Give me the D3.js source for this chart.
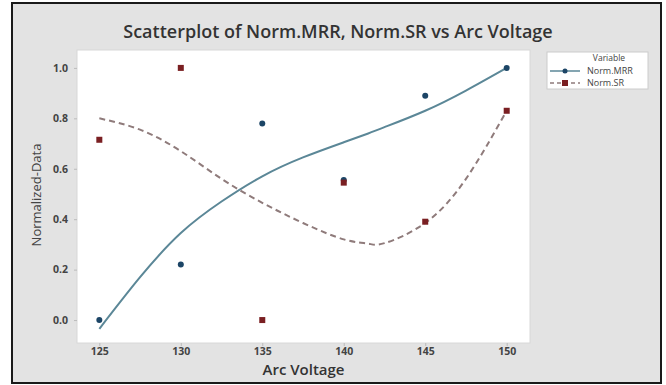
<!DOCTYPE html>
<html><head><meta charset="utf-8">
<script src="https://cdn.jsdelivr.net/npm/d3@7"></script>
<style>body{margin:0;background:#fff}svg{display:block}</style>
</head><body>
<svg id="c" width="666" height="385"></svg>
<script>
const voltage = [125, 130, 135, 140, 145, 150];
const normMRR = [0.00, 0.22, 0.78, 0.555, 0.89, 1.00];
const normSR  = [0.715, 1.00, 0.00, 0.545, 0.39, 0.83];
// fitted smoother curves
const fitX   = [125, 127.5, 130, 132.5, 135, 137.5, 140, 141.5, 142.5, 145, 147.5, 150];
const fitMRR = [-0.035, 0.17, 0.345, 0.47, 0.57, 0.645, 0.705, 0.74, 0.765, 0.83, 0.91, 1.00];
const fitSR  = [0.80, 0.755, 0.67, 0.56, 0.465, 0.385, 0.32, 0.303, 0.305, 0.385, 0.56, 0.83];
const xTicks = [125, 130, 135, 140, 145, 150];
const yTicks = [0.0, 0.2, 0.4, 0.6, 0.8, 1.0];
const seriesNames = ["Norm.MRR", "Norm.SR"];

const svg = d3.select("#c");
svg.append("rect").attr("x", 12).attr("y", 3).attr("width", 649).attr("height", 380)
  .attr("fill", "#e3e3e3").attr("stroke", "#1a1a1a").attr("stroke-width", 2);

const L = 77, R = 530, T = 50, B = 343;
const x = d3.scaleLinear().domain([123.63, 151.43]).range([L, R]);
const y = d3.scaleLinear().domain([-0.091, 1.071]).range([B, T]);

svg.append("rect").attr("x", L).attr("y", T).attr("width", R - L).attr("height", B - T)
  .attr("fill", "#fff").attr("stroke", "#d8d8d8");

const font = "'Open Sans', 'DejaVu Sans', sans-serif";
const xa = svg.append("g").attr("transform", `translate(0,${B})`)
  .call(d3.axisBottom(x).tickValues(xTicks).tickFormat(d3.format("d")).tickSize(3).tickPadding(2));
const ya = svg.append("g").attr("transform", `translate(${L},0)`)
  .call(d3.axisLeft(y).tickValues(yTicks).tickFormat(d3.format(".1f")).tickSize(3).tickPadding(6));
[xa, ya].forEach(a => {
  a.select(".domain").remove();
  a.selectAll("line").attr("stroke", "#bbb");
  a.selectAll("text").attr("fill", "#444").attr("font-family", font)
    .attr("font-weight", 700).attr("font-size", 10.5);
});

const lineGen = d3.line().x((d, i) => x(fitX[i])).y(d => y(d)).curve(d3.curveNatural);
svg.append("path").datum(fitMRR).attr("d", lineGen).attr("fill", "none")
  .attr("stroke", "#5b8797").attr("stroke-width", 2);
svg.append("path").datum(fitSR).attr("d", lineGen).attr("fill", "none")
  .attr("stroke", "#8f7b7b").attr("stroke-width", 2).attr("stroke-dasharray", "6,4");

svg.append("g").selectAll("circle").data(normMRR).join("circle")
  .attr("cx", (d, i) => x(voltage[i])).attr("cy", d => y(d)).attr("r", 3)
  .attr("fill", "#1c4566");
svg.append("g").selectAll("rect").data(normSR).join("rect")
  .attr("x", (d, i) => x(voltage[i]) - 3).attr("y", d => y(d) - 3)
  .attr("width", 6).attr("height", 6).attr("fill", "#7a1f22");

svg.append("text").attr("x", 338).attr("y", 38).attr("text-anchor", "middle")
  .attr("font-family", font).attr("font-weight", 600).attr("font-size", 18)
  .attr("fill", "#333").text("Scatterplot of Norm.MRR, Norm.SR vs Arc Voltage");
svg.append("text").attr("x", (L + R) / 2).attr("y", 375).attr("text-anchor", "middle")
  .attr("font-family", font).attr("font-weight", 600).attr("font-size", 15)
  .attr("fill", "#333").text("Arc Voltage");
svg.append("text").attr("transform", `translate(41,195) rotate(-90)`).attr("text-anchor", "middle")
  .attr("font-family", font).attr("font-size", 13).attr("fill", "#444").text("Normalized-Data");

// legend
const lg = svg.append("g");
lg.append("rect").attr("x", 547).attr("y", 52).attr("width", 101).attr("height", 37)
  .attr("fill", "#fff").attr("stroke", "#ccc");
lg.append("text").attr("x", 609).attr("y", 61).attr("text-anchor", "middle")
  .attr("font-family", font).attr("font-size", 8.5).attr("fill", "#444").text("Variable");
seriesNames.forEach((n, i) => {
  const yy = 71 + i * 12;
  lg.append("line").attr("x1", 550).attr("x2", 580).attr("y1", yy).attr("y2", yy)
    .attr("stroke", i ? "#8f7b7b" : "#5b8797").attr("stroke-width", 1.5)
    .attr("stroke-dasharray", i ? "4,3" : null);
  if (i === 0) lg.append("circle").attr("cx", 565).attr("cy", yy).attr("r", 2.5).attr("fill", "#1c4566");
  else lg.append("rect").attr("x", 562).attr("y", yy - 3).attr("width", 6).attr("height", 6).attr("fill", "#7a1f22");
  lg.append("text").attr("x", 587).attr("y", yy + 3).attr("font-family", font)
    .attr("font-size", 9).attr("fill", "#444").text(n);
});
</script>
</body></html>
